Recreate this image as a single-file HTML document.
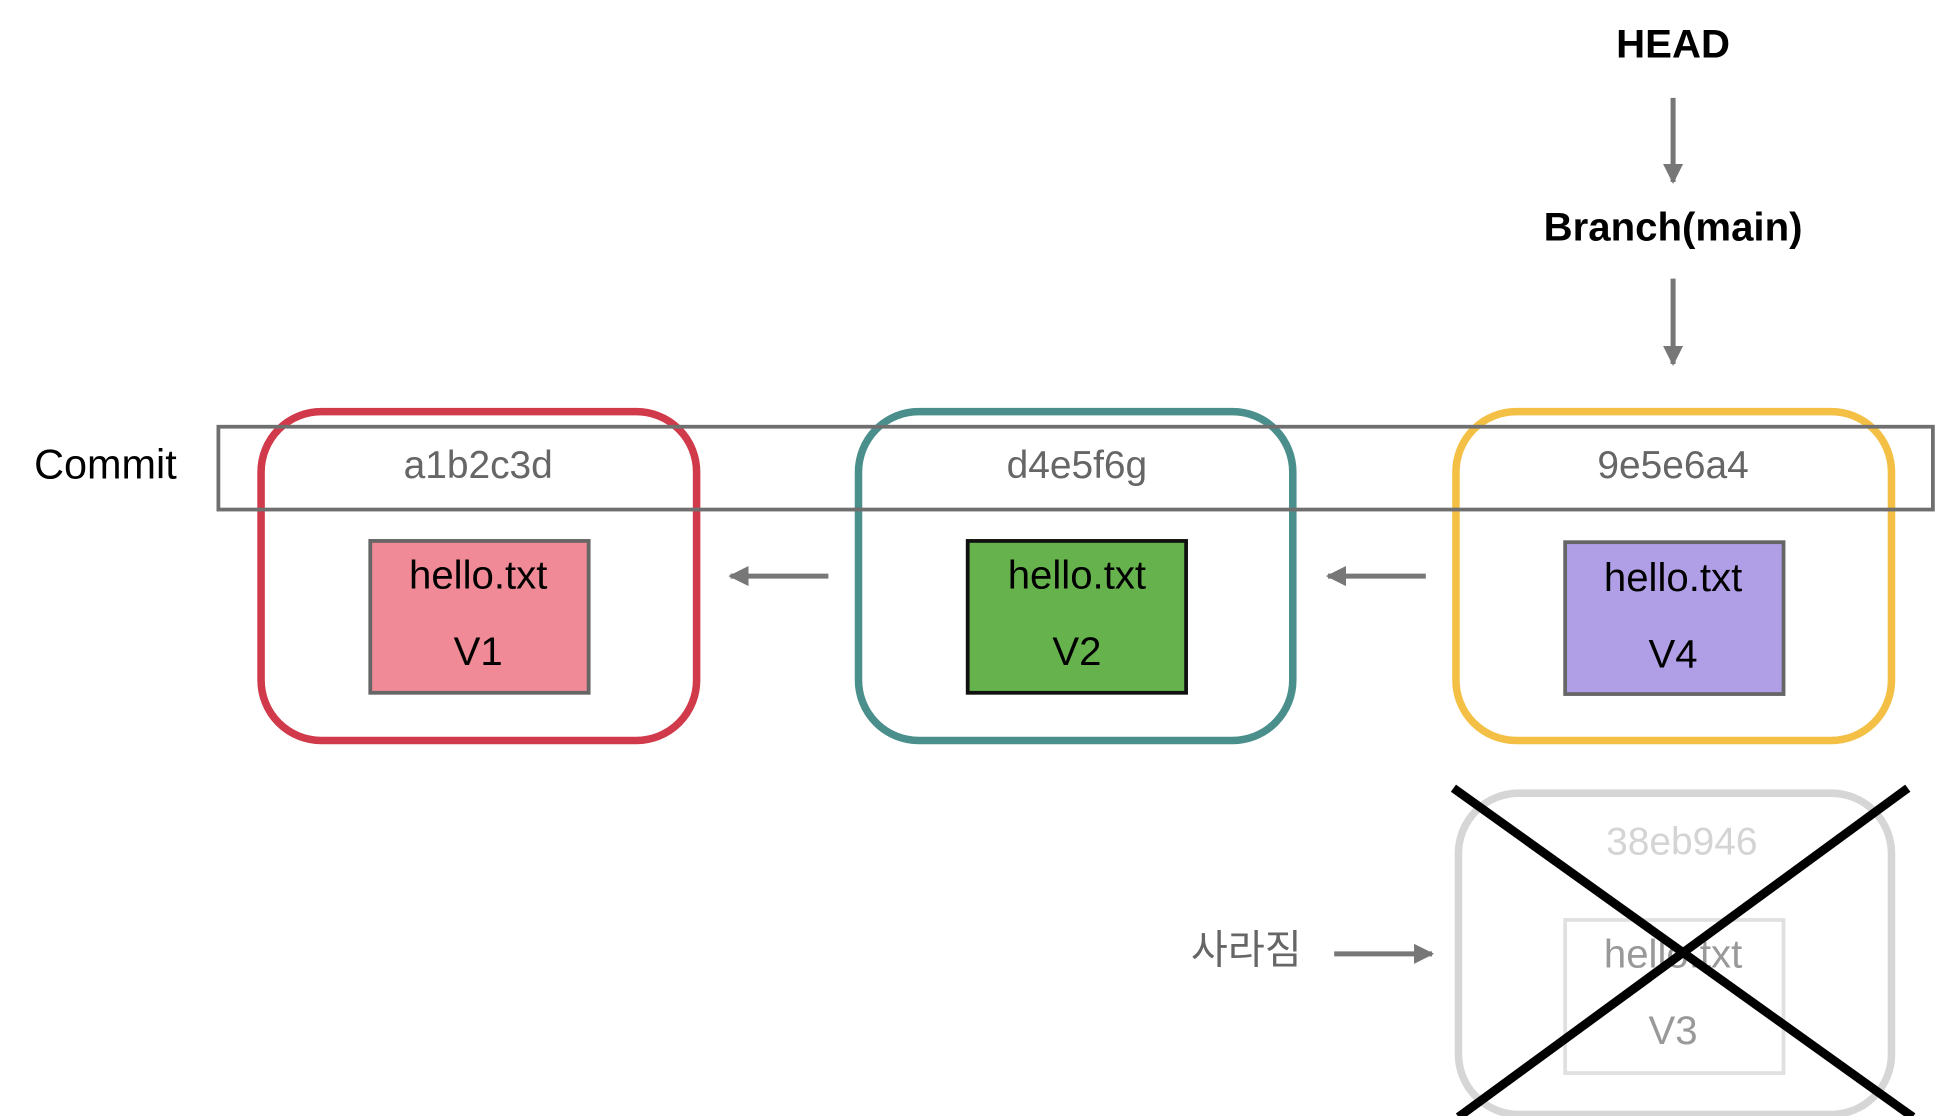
<!DOCTYPE html>
<html><head><meta charset="utf-8"><style>
html,body{margin:0;padding:0;background:#fff;width:1958px;height:1116px;overflow:hidden}
svg{display:block}
text{font-family:"Liberation Sans","Noto Sans CJK KR",sans-serif;text-anchor:middle;dominant-baseline:central}
</style></head><body>
<svg width="1958" height="1116" viewBox="0 0 1560 889.2" preserveAspectRatio="none" xmlns="http://www.w3.org/2000/svg">
<defs>
<marker id="ah" viewBox="0 0 10 10" refX="9" refY="5" markerWidth="4" markerHeight="4" orient="auto"><path d="M0,0L10,5L0,10z" fill="#777"/></marker>
</defs>
<text x="1333" y="35" font-size="32" font-weight="bold">HEAD</text>
<line x1="1333" y1="78" x2="1333" y2="145" stroke="#777" stroke-width="4" marker-end="url(#ah)"/>
<text x="1333" y="181" font-size="32" font-weight="bold">Branch(main)</text>
<line x1="1333" y1="222" x2="1333" y2="290" stroke="#777" stroke-width="4" marker-end="url(#ah)"/>

<text x="84" y="370" font-size="33">Commit</text>

<rect x="208" y="328" width="347" height="262" rx="48" fill="none" stroke="#d13a4a" stroke-width="6"/>
<rect x="684" y="328" width="346" height="262" rx="48" fill="none" stroke="#4a8f8c" stroke-width="6"/>
<rect x="1160" y="328" width="347" height="262" rx="48" fill="none" stroke="#f3c045" stroke-width="6"/>

<rect x="174" y="340" width="1366" height="66" fill="none" stroke="#6f6f6f" stroke-width="3"/>
<text x="381" y="371" font-size="31" fill="#666">a1b2c3d</text>
<text x="858" y="371" font-size="31" fill="#666">d4e5f6g</text>
<text x="1333" y="371" font-size="31" fill="#666">9e5e6a4</text>

<rect x="295" y="431" width="174" height="121" fill="#ef8a96" stroke="#666" stroke-width="3"/>
<text x="381" y="458" font-size="32">hello.txt</text>
<text x="381" y="519" font-size="32">V1</text>
<rect x="771" y="431" width="174" height="121" fill="#66b24d" stroke="#111" stroke-width="3"/>
<text x="858" y="458" font-size="32">hello.txt</text>
<text x="858" y="519" font-size="32">V2</text>
<rect x="1247" y="432" width="174" height="121" fill="#b09fe6" stroke="#666" stroke-width="3"/>
<text x="1333" y="460" font-size="32">hello.txt</text>
<text x="1333" y="521" font-size="32">V4</text>

<line x1="660" y1="459" x2="582" y2="459" stroke="#777" stroke-width="4" marker-end="url(#ah)"/>
<line x1="1136" y1="459" x2="1058" y2="459" stroke="#777" stroke-width="4" marker-end="url(#ah)"/>

<rect x="1162" y="632" width="345" height="256" rx="48" fill="none" stroke="#d6d6d6" stroke-width="6"/>
<text x="1340" y="671" font-size="31" fill="#d4d4d4">38eb946</text>
<rect x="1247" y="733" width="174" height="122" fill="none" stroke="#e0e0e0" stroke-width="3"/>
<text x="1333" y="760" font-size="32" fill="#999">hello.txt</text>
<text x="1333" y="821" font-size="32" fill="#999">V3</text>

<text x="993" y="757" font-size="32" fill="#666">사라짐</text>
<line x1="1063" y1="760" x2="1141" y2="760" stroke="#777" stroke-width="4" marker-end="url(#ah)"/>

<line x1="1158" y1="628" x2="1524" y2="890" stroke="#000" stroke-width="7"/>
<line x1="1520" y1="628" x2="1162" y2="890" stroke="#000" stroke-width="7"/>
</svg>
</body></html>
